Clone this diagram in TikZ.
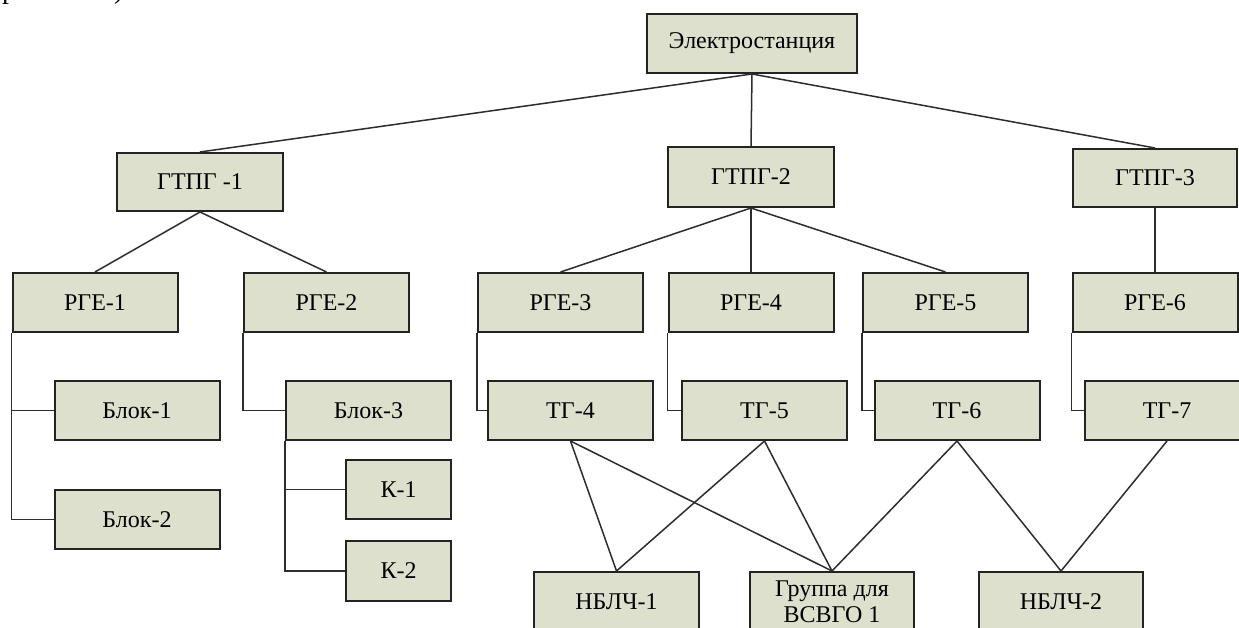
\documentclass[tikz,border=0pt]{standalone}
\usepackage{fontspec}
\setmainfont{Liberation Serif}
\definecolor{boxfill}{RGB}{221,224,204}
\definecolor{boxline}{RGB}{35,35,35}
\definecolor{linkc}{RGB}{45,45,45}
\tikzset{
  box/.style={draw=boxline, fill=boxfill, line width=2pt, inner sep=0pt,
    minimum width=165pt, minimum height=59pt, align=center,
    font=\fontsize{24}{26}\selectfont},
  kbox/.style={box, minimum width=105pt},
  link/.style={draw=linkc, line width=1.5pt},
  frag/.style={inner sep=0pt, anchor=base west, font=\fontsize{28}{30}\selectfont}
}
\begin{document}
\begin{tikzpicture}[x=1pt,y=-1pt]
\useasboundingbox (0,0) rectangle (1239,628);
\clip (0,0) rectangle (1239,628);
\fill[white] (0,0) rectangle (1239,628);
% fragments of the text line above the picture
\node[frag] (fa) at (2,-1) {р};
\node[frag] (fb) at (114,-1) {)};
% nodes
\node[box, minimum width=210pt] (el) at (752,43.5) {Электростанция};
\node[box, minimum width=166pt, minimum height=58pt] (g1) at (200,182) {ГТПГ -1};
\node[box, minimum width=166pt, minimum height=60pt] (g2) at (751,177) {ГТПГ-2};
\node[box, minimum width=164pt, minimum height=58pt] (g3) at (1155,178) {ГТПГ-3};
\node[box] (r1) at (95,302.5) {РГЕ-1};
\node[box] (r2) at (326.5,302.5) {РГЕ-2};
\node[box] (r3) at (560.5,302.5) {РГЕ-3};
\node[box] (r4) at (751,302.5) {РГЕ-4};
\node[box] (r5) at (945.5,302.5) {РГЕ-5};
\node[box] (r6) at (1155,302.5) {РГЕ-6};
\node[box] (b1) at (137,410.5) {Блок-1};
\node[box] (b2) at (137,519.5) {Блок-2};
\node[box] (b3) at (368.5,410.5) {Блок-3};
\node[kbox] (k1) at (398.5,489.5) {К-1};
\node[kbox, minimum height=60pt] (k2) at (398.5,571) {К-2};
\node[box] (t4) at (570.5,410.5) {ТГ-4};
\node[box] (t5) at (764.5,410.5) {ТГ-5};
\node[box] (t6) at (957,410.5) {ТГ-6};
\node[box] (t7) at (1167,410.5) {ТГ-7};
\node[box] (n1) at (616.5,601.5) {НБЛЧ-1};
\node[box, minimum width=164pt, font=\fontsize{24}{26}\selectfont] (gr) at (832,601.5) {Группа для\\ВСВГО 1};
\node[box, minimum width=164pt] (n2) at (1061,601.5) {НБЛЧ-2};
% tree links
\draw[link] (el.south) -- (g1.north);
\draw[link] (el.south) -- (g2.north);
\draw[link] (el.south) -- (g3.north);
\draw[link] (g1.south) -- (r1.north);
\draw[link] (g1.south) -- (r2.north);
\draw[link] (g2.south) -- (r3.north);
\draw[link] (g2.south) -- (r4.north);
\draw[link] (g2.south) -- (r5.north);
\draw[link] (g3.south) -- (r6.north);
% elbow links
\draw[link] (r1.south west) |- (b1.west);
\draw[link] (r1.south west) |- (b2.west);
\draw[link] (r2.south west) |- (b3.west);
\draw[link] (b3.south west) |- (k1.west);
\draw[link] (b3.south west) |- (k2.west);
\draw[link] (r3.south west) |- (t4.west);
\draw[link] (r4.south west) |- (t5.west);
\draw[link] (r5.south west) |- (t6.west);
\draw[link] (r6.south west) |- (t7.west);
% cross links
\draw[link] (t4.south) -- (n1.north);
\draw[link] (t4.south) -- (gr.north);
\draw[link] (t5.south) -- (n1.north);
\draw[link] (t5.south) -- (gr.north);
\draw[link] (t6.south) -- (gr.north);
\draw[link] (t6.south) -- (n2.north);
\draw[link] (t7.south) -- (n2.north);
\end{tikzpicture}
\end{document}
